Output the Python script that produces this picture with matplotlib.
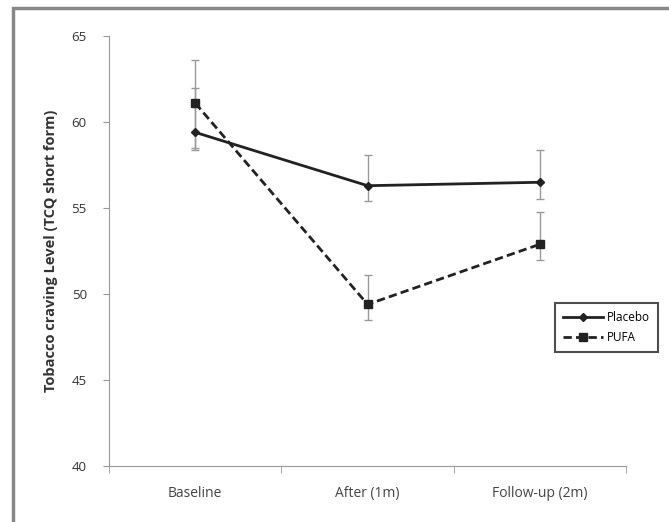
import matplotlib
matplotlib.use('Agg')
import matplotlib.pyplot as plt
import numpy as np
from matplotlib.patches import Rectangle

matplotlib.rcParams['font.family'] = ['Open Sans', 'DejaVu Sans']

# data
categories = ["Baseline", "After (1m)", "Follow-up (2m)"]
placebo = [59.4, 56.3, 56.5]
placebo_lo = [1.0, 0.9, 1.0]
placebo_hi = [2.6, 1.8, 1.9]
pufa = [61.1, 49.4, 52.9]
pufa_lo = [2.6, 0.9, 0.9]
pufa_hi = [2.5, 1.7, 1.9]

fig = plt.figure(figsize=(6.69, 5.22), dpi=100)
# outer chart frame
fig.patches.append(Rectangle((13 / 669, -0.05), 1.0, 1 - 8 / 522 + 0.05,
                             transform=fig.transFigure, fill=False,
                             edgecolor='#888888', linewidth=2.5))
ax = fig.add_axes([0.163, 0.107, 0.773, 0.824])

x = np.arange(len(categories))
c1 = ax.errorbar(x, placebo, yerr=[placebo_lo, placebo_hi], color='#222222',
                 marker='D', markersize=4, linewidth=2, ecolor='#999999',
                 elinewidth=1, capsize=3)
c2 = ax.errorbar(x, pufa, yerr=[pufa_lo, pufa_hi], color='#222222',
                 marker='s', markersize=6, linewidth=2, linestyle=(0, (3, 1.5)),
                 ecolor='#999999', elinewidth=1, capsize=3)

ax.set_xlim(-0.5, 2.5)
ax.set_ylim(40, 65)
ax.set_yticks([40, 45, 50, 55, 60, 65])
ax.set_xticks(x)
ax.set_xticklabels(categories, fontsize=10, color='#444444')
ax.set_xticks([-0.5, 0.5, 1.5, 2.5], minor=True)
ax.tick_params(axis='x', which='major', length=0, pad=14)
ax.tick_params(axis='x', which='minor', length=5, color='#999999')
ax.tick_params(axis='y', length=4, color='#999999', labelsize=9.5,
               labelcolor='#333333', pad=12)
for s in ['top', 'right']:
    ax.spines[s].set_visible(False)
for s in ['left', 'bottom']:
    ax.spines[s].set_color('#999999')
ax.set_ylabel("Tobacco craving Level (TCQ short form)", fontsize=10.5,
              fontweight='bold', color='#333333', labelpad=10)

leg = ax.legend([c1[0], c2[0]], ['Placebo', 'PUFA'], loc='upper left',
                bbox_to_anchor=(0.862, 0.38), fontsize=8.5,
                frameon=True, fancybox=False, borderpad=0.7,
                handlelength=3.4, handletextpad=0.3, borderaxespad=0,
                labelspacing=0.6)
leg.get_frame().set_edgecolor('#222222')
leg.get_frame().set_linewidth(1.5)

plt.savefig('out.png', dpi=100)
plt.close()
